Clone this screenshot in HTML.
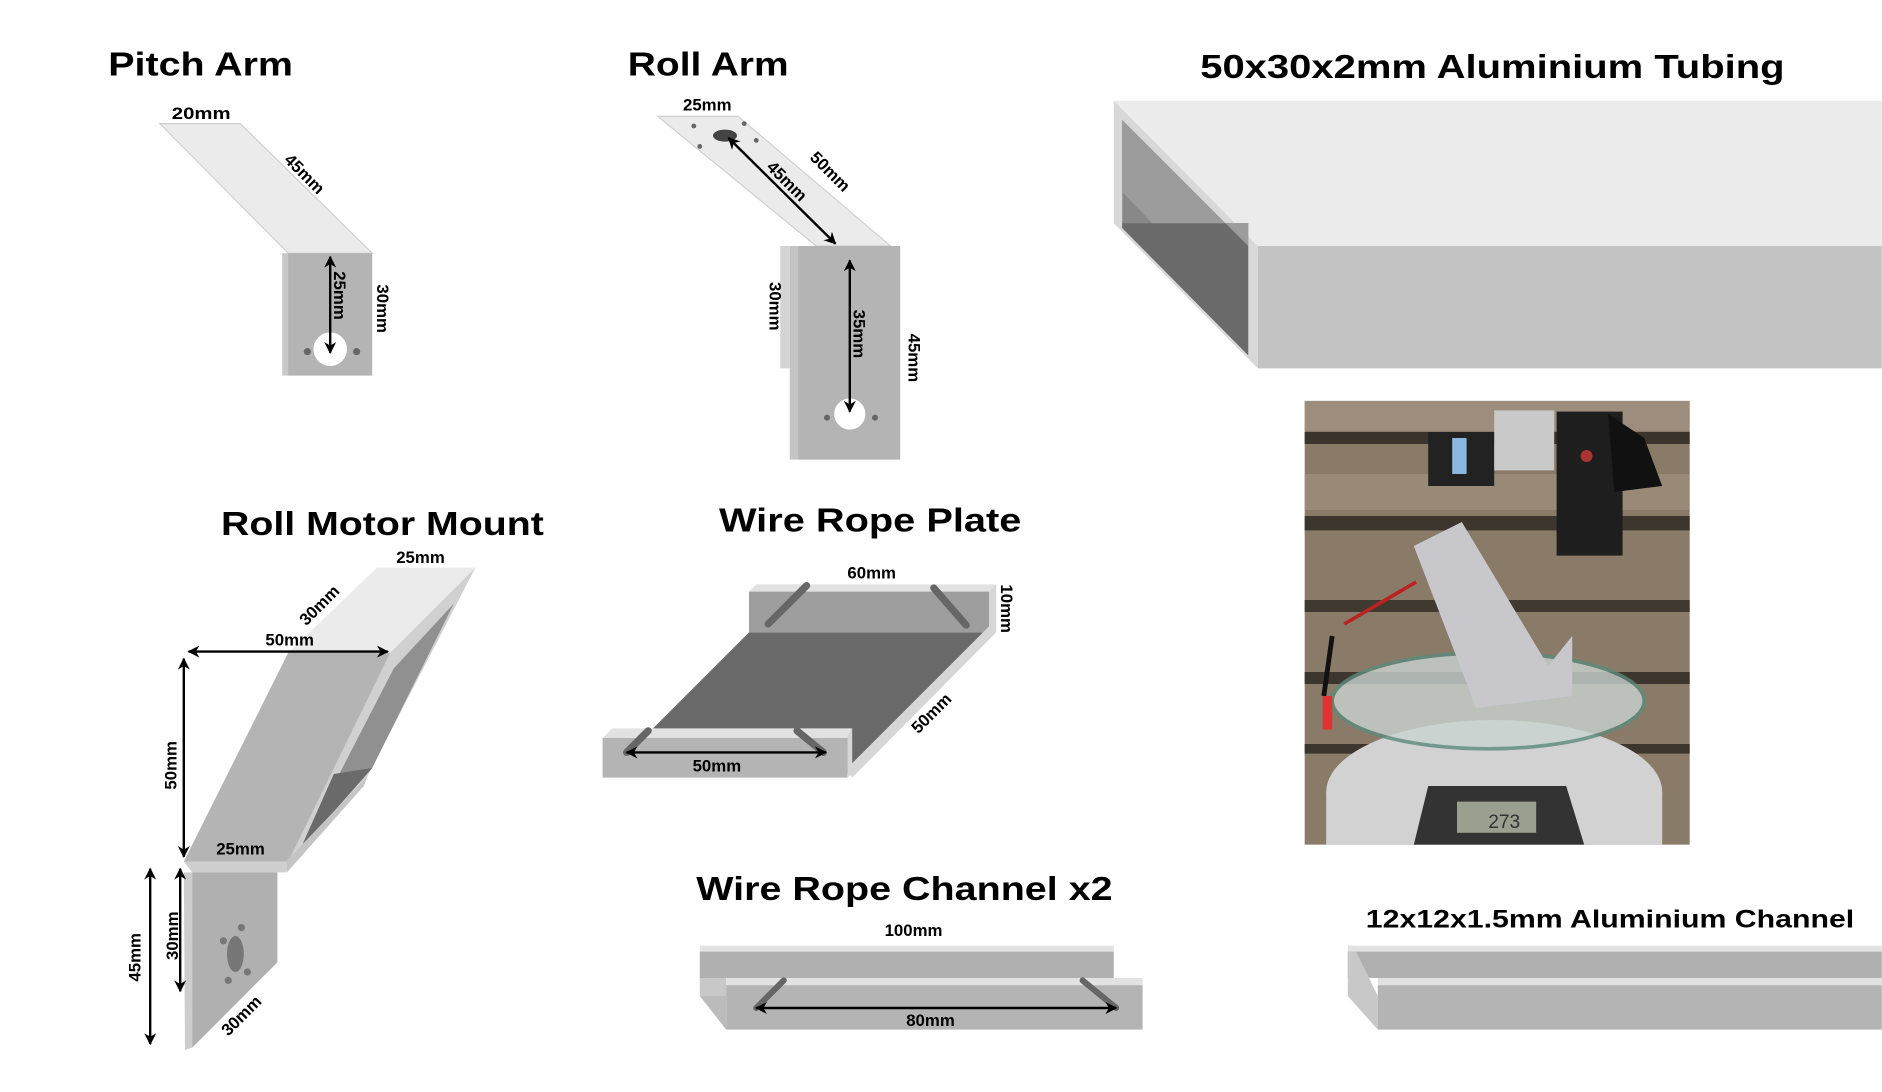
<!DOCTYPE html>
<html><head><meta charset="utf-8"><style>
html,body{margin:0;padding:0;background:#fff;}
svg{display:block;}
text{font-family:"Liberation Sans",Arial,sans-serif;font-weight:bold;fill:#000;}
.t{font-size:28px;}
.l{font-size:14px;}
</style></head><body>
<svg width="1882" height="1092" viewBox="0 0 1568 910" xmlns="http://www.w3.org/2000/svg">
<defs>
<marker id="a" viewBox="0 0 10 10" refX="9" refY="5" markerWidth="5" markerHeight="5" orient="auto-start-reverse"><path d="M0,0 L10,5 L0,10 L3,5 z" fill="#000"/></marker>
<clipPath id="ph"><rect x="1087" y="334" width="321" height="370"/></clipPath>
</defs>
<rect width="1568" height="910" fill="#fff"/>

<!-- Pitch Arm -->
<text class="t" x="90" y="63" textLength="154" lengthAdjust="spacingAndGlyphs">Pitch Arm</text>
<polygon points="133,103 200,103 310,211 240,211" fill="#ebebeb" stroke="#d0d0d0"/>
<rect x="235" y="211" width="6" height="102" fill="#c8c8c8"/>
<rect x="240" y="211" width="70" height="102" fill="#b4b4b4"/>
<circle cx="275" cy="291" r="14" fill="#fff"/>
<circle cx="256" cy="293" r="3" fill="#666"/><circle cx="297" cy="293" r="3" fill="#666"/>
<line x1="275" y1="214" x2="275" y2="294" stroke="#000" stroke-width="2" marker-start="url(#a)" marker-end="url(#a)"/>
<text class="l" x="143" y="99" textLength="49" lengthAdjust="spacingAndGlyphs">20mm</text>
<text class="l" transform="translate(236,134) rotate(45)">45mm</text>
<text class="l" transform="translate(278,226) rotate(90)">25mm</text>
<text class="l" transform="translate(314,237) rotate(90)">30mm</text>

<!-- Roll Arm -->
<text class="t" x="523" y="63" textLength="134" lengthAdjust="spacingAndGlyphs">Roll Arm</text>
<polygon points="548,97 615,97 742,205 680,205" fill="#ebebeb" stroke="#d0d0d0"/>
<ellipse cx="604" cy="113" rx="10" ry="5" fill="#444"/>
<circle cx="578" cy="105" r="2" fill="#666"/><circle cx="620" cy="103" r="2" fill="#666"/><circle cx="583" cy="122" r="2" fill="#666"/><circle cx="630" cy="117" r="2" fill="#666"/>
<line x1="607" y1="115" x2="696" y2="203" stroke="#000" stroke-width="2" marker-start="url(#a)" marker-end="url(#a)"/>
<rect x="650" y="205" width="8" height="102" fill="#d4d4d4"/>
<rect x="658" y="205" width="8" height="178" fill="#c4c4c4"/>
<rect x="665" y="205" width="85" height="178" fill="#b4b4b4"/>
<circle cx="708" cy="345" r="13" fill="#fff"/>
<circle cx="689" cy="348" r="2.5" fill="#666"/><circle cx="729" cy="348" r="2.5" fill="#666"/>
<line x1="708" y1="217" x2="708" y2="343" stroke="#000" stroke-width="2" marker-start="url(#a)" marker-end="url(#a)"/>
<text class="l" x="569" y="92">25mm</text>
<text class="l" transform="translate(674,132) rotate(45)">50mm</text>
<text class="l" transform="translate(638,140) rotate(45)">45mm</text>
<text class="l" transform="translate(641,235) rotate(90)">30mm</text>
<text class="l" transform="translate(711,258) rotate(90)">35mm</text>
<text class="l" transform="translate(757,278) rotate(90)">45mm</text>

<!-- Tubing -->
<text class="t" x="1000" y="65" textLength="487" lengthAdjust="spacingAndGlyphs">50x30x2mm Aluminium Tubing</text>
<polygon points="928,84 1568,84 1568,205 1048,205" fill="#ebebeb"/>
<polygon points="1048,205 1568,205 1568,307 1048,307" fill="#c4c4c4"/>
<polygon points="928,84 1048,205 1048,307 928,186" fill="#d8d8d8"/>
<polygon points="935,100 1040,205 1040,296 935,190" fill="#888"/>
<polygon points="935,186 1040,186 1040,296 935,190" fill="#6a6a6a"/>
<polygon points="935,100 1040,205 1040,186 960,186 935,160" fill="#9c9c9c"/>

<!-- Photo -->
<g clip-path="url(#ph)">
<rect x="1087" y="334" width="321" height="370" fill="#8a7b68"/>
<rect x="1087" y="360" width="321" height="10" fill="#3a342c"/>
<rect x="1087" y="430" width="321" height="12" fill="#3d362e"/>
<rect x="1087" y="500" width="321" height="10" fill="#40392f"/>
<rect x="1087" y="560" width="321" height="10" fill="#3d362e"/>
<rect x="1087" y="620" width="321" height="8" fill="#3d362e"/>
<rect x="1087" y="334" width="321" height="25" fill="#a8998a" opacity="0.6"/>
<rect x="1087" y="395" width="321" height="30" fill="#a49484" opacity="0.6"/>
<ellipse cx="1245" cy="660" rx="140" ry="60" fill="#d2d2d2"/>
<rect x="1105" y="660" width="280" height="44" fill="#d2d2d2"/>
<path d="M1178,704 L1190,655 L1305,655 L1320,704 Z" fill="#333"/>
<rect x="1214" y="668" width="66" height="26" fill="#9aa08f"/>
<text x="1240" y="690" style="font-size:16px;font-weight:normal;fill:#333">273</text>
<ellipse cx="1240" cy="584" rx="130" ry="40" fill="#c9d4d0" opacity="0.8" stroke="#5c8a7c" stroke-width="3"/>
<polygon points="1178,455 1218,435 1290,555 1310,530 1310,580 1230,590" fill="#c8c8cc"/>
<rect x="1190" y="360" width="55" height="45" fill="#222"/>
<rect x="1210" y="365" width="12" height="30" fill="#8ab8e0"/>
<rect x="1245" y="342" width="50" height="50" fill="#c9c9c9"/>
<rect x="1297" y="343" width="55" height="120" fill="#1e1e1e"/>
<circle cx="1322" cy="380" r="5" fill="#a33"/>
<polygon points="1340,345 1370,365 1385,405 1345,410" fill="#111"/>
<path d="M1120,520 L1180,485" stroke="#b22" stroke-width="3"/>
<path d="M1110,530 L1103,580" stroke="#111" stroke-width="4"/>
<rect x="1102" y="580" width="8" height="28" fill="#d33"/>
</g>

<!-- Roll Motor Mount -->
<text class="t" x="184" y="446" textLength="269" lengthAdjust="spacingAndGlyphs">Roll Motor Mount</text>
<polygon points="314,473 396,473 325,544 240,544" fill="#ebebeb"/>
<polygon points="325,544 396,473 306,647 238,718" fill="#d0d0d0"/>
<polygon points="240,544 325,544 240,718 153,718" fill="#b4b4b4"/>
<polygon points="328,557 378,503 310,640 250,708" fill="#909090"/>
<polygon points="278,645 310,640 250,708" fill="#6a6a6a"/>
<polygon points="238,718 306,647 303,655 239,727" fill="#c4c4c4"/>
<polygon points="153,718 239,718 239,727 160,727" fill="#cfcfcf"/>
<polygon points="153,727 160,727 160,873 154,875" fill="#cdcdcd"/>
<polygon points="160,727 231,727 231,802 160,873" fill="#b0b0b0"/>
<ellipse cx="196" cy="795" rx="7" ry="15" fill="#777"/>
<circle cx="201" cy="773" r="3" fill="#777"/><circle cx="186" cy="784" r="3" fill="#777"/><circle cx="206" cy="810" r="3" fill="#777"/><circle cx="190" cy="817" r="3" fill="#777"/>
<line x1="157" y1="543" x2="323" y2="543" stroke="#000" stroke-width="2" marker-start="url(#a)" marker-end="url(#a)"/>
<line x1="153" y1="549" x2="153" y2="714" stroke="#000" stroke-width="2" marker-start="url(#a)" marker-end="url(#a)"/>
<line x1="150" y1="724" x2="150" y2="826" stroke="#000" stroke-width="2" marker-start="url(#a)" marker-end="url(#a)"/>
<line x1="125" y1="724" x2="125" y2="870" stroke="#000" stroke-width="2" marker-start="url(#a)" marker-end="url(#a)"/>
<text class="l" x="330" y="469">25mm</text>
<text class="l" transform="translate(255,522) rotate(-45)">30mm</text>
<text class="l" x="221" y="538">50mm</text>
<text class="l" transform="translate(147,658) rotate(-90)">50mm</text>
<text class="l" x="180" y="712">25mm</text>
<text class="l" transform="translate(148,800) rotate(-90)">30mm</text>
<text class="l" transform="translate(117,818) rotate(-90)">45mm</text>
<text class="l" transform="translate(190,864) rotate(-45)">30mm</text>

<!-- Wire Rope Plate -->
<text class="t" x="599" y="443" textLength="252" lengthAdjust="spacingAndGlyphs">Wire Rope Plate</text>
<polygon points="624,527 826,527 706,645 536,615" fill="#6a6a6a"/>
<polygon points="624,493 630,487 830,487 824,493" fill="#e2e2e2"/>
<rect x="624" y="493" width="200" height="34" fill="#9e9e9e"/>
<polygon points="824,493 830,487 830,527 710,648 706,640 824,522" fill="#d6d6d6"/>
<line x1="640" y1="520" x2="672" y2="488" stroke="#666" stroke-width="6" stroke-linecap="round"/>
<line x1="778" y1="490" x2="805" y2="521" stroke="#666" stroke-width="6" stroke-linecap="round"/>
<polygon points="502,615 510,607 710,607 706,615" fill="#e2e2e2"/>
<rect x="502" y="615" width="204" height="33" fill="#b4b4b4"/>
<polygon points="706,615 710,607 710,645 706,648" fill="#d6d6d6"/>
<line x1="522" y1="627" x2="540" y2="609" stroke="#666" stroke-width="6" stroke-linecap="round"/>
<line x1="664" y1="609" x2="686" y2="627" stroke="#666" stroke-width="6" stroke-linecap="round"/>
<line x1="522" y1="627" x2="688" y2="627" stroke="#000" stroke-width="2" marker-start="url(#a)" marker-end="url(#a)"/>
<text class="l" x="706" y="482">60mm</text>
<text class="l" transform="translate(834,487) rotate(90)">10mm</text>
<text class="l" transform="translate(765,612) rotate(-45)">50mm</text>
<text class="l" x="577" y="643">50mm</text>

<!-- Wire Rope Channel -->
<text class="t" x="580" y="750" textLength="347" lengthAdjust="spacingAndGlyphs">Wire Rope Channel x2</text>
<rect x="583" y="788" width="345" height="5" fill="#e2e2e2"/>
<rect x="583" y="793" width="345" height="22" fill="#b0b0b0"/>
<polygon points="583,815 605,815 605,830 583,830" fill="#c8c8c8"/>
<polygon points="583,830 605,858 605,830" fill="#bbb"/>
<rect x="605" y="815" width="347" height="6" fill="#e2e2e2"/>
<rect x="605" y="821" width="347" height="37" fill="#b4b4b4"/>
<line x1="630" y1="840" x2="653" y2="817" stroke="#666" stroke-width="5" stroke-linecap="round"/>
<line x1="902" y1="817" x2="930" y2="840" stroke="#666" stroke-width="5" stroke-linecap="round"/>
<line x1="630" y1="840" x2="930" y2="840" stroke="#000" stroke-width="2" marker-start="url(#a)" marker-end="url(#a)"/>
<text class="l" x="737" y="780">100mm</text>
<text class="l" x="755" y="855">80mm</text>

<!-- Aluminium Channel -->
<text x="1138" y="773" style="font-size:21px" textLength="407" lengthAdjust="spacingAndGlyphs">12x12x1.5mm Aluminium Channel</text>
<rect x="1123" y="788" width="445" height="5" fill="#e2e2e2"/>
<rect x="1123" y="793" width="445" height="22" fill="#b0b0b0"/>
<polygon points="1123,793 1130,793 1148,830 1148,858 1123,830" fill="#c8c8c8"/>
<rect x="1148" y="815" width="420" height="6" fill="#e2e2e2"/>
<rect x="1148" y="821" width="420" height="37" fill="#b4b4b4"/>
</svg>
</body></html>
